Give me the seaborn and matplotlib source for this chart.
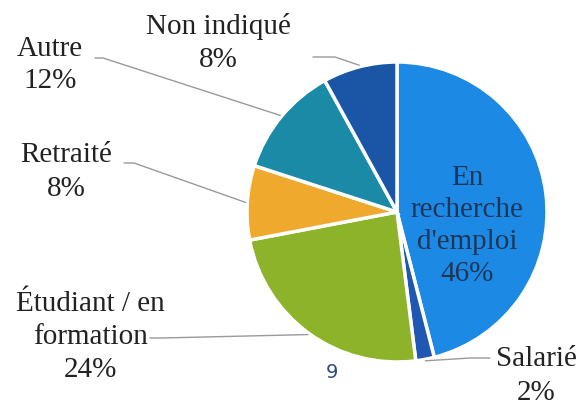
import numpy as np
import matplotlib
matplotlib.use('Agg')
import matplotlib.pyplot as plt
import seaborn as sns

# data (clockwise from 12 o'clock)
aCategory = ["En\nrecherche\nd'emploi", 'Salarié', 'Étudiant / en\nformation', 'Retraité', 'Autre', 'Non indiqué']
aPercent = [46, 2, 24, 8, 12, 8]
aColor = ['#1c8ae4', '#1f58b2', '#8db32a', '#efaa2e', '#1a8aa7', '#1a55a6']

sns.set_theme(style='white')
plt.rcParams['font.family'] = ['Liberation Serif', 'DejaVu Serif']

iWidth, iHeight = 582, 408
dCx, dCy, dR = 397.0, 212.0, 150.0   # pie centre / radius in pixels

def px(x, y):
    # pixel position -> data coordinates
    return (x - dCx) / dR, (dCy - y) / dR

fig = plt.figure(figsize=(iWidth / 100, iHeight / 100), dpi=100)
ax = fig.add_axes([0, 0, 1, 1])
aWedge, _ = ax.pie(aPercent, colors=sns.color_palette(aColor), startangle=90,
                   counterclock=False, radius=1.0,
                   wedgeprops=dict(edgecolor='white', linewidth=2.5))
ax.set_xlim(-dCx / dR, (iWidth - dCx) / dR)
ax.set_ylim(-(iHeight - dCy) / dR, dCy / dR)
ax.set_aspect('equal')
ax.axis('off')

# label boxes: (text centre, start of leader line, elbow length) in pixels
aLayout = {
    1: ((536, 376), (490, 358), 20),
    2: ((90, 337), (150, 338), 12),
    3: ((66, 172), (124, 163), 10),
    4: ((50, 65), (95, 58), 8),
    5: ((218, 43), (313, 57), 22),
}
dSize = 21

for i, (sCat, iPct) in enumerate(zip(aCategory, aPercent)):
    sLabel = sCat + '\n' + str(iPct) + '%'
    w = aWedge[i]
    dMid = np.deg2rad((w.theta1 + w.theta2) / 2)
    if i == 0:
        ax.text(*px(467, 226), sLabel, ha='center', va='center', fontsize=dSize,
                color='#1f3658', linespacing=1.3)
        continue
    (tx, ty), (lx, ly), dElbow = aLayout[i]
    ax.text(*px(tx, ty), sLabel, ha='center', va='center', fontsize=dSize,
            color='#222222', linespacing=1.35)
    x0, y0 = px(lx, ly)
    x1 = x0 + (dElbow / dR if x0 < 0 else -dElbow / dR)
    ex, ey = 1.01 * np.cos(dMid), 1.01 * np.sin(dMid)
    ax.plot([x0, x1, ex], [y0, y0, ey], color='#9a9a9a', lw=1.0)

# stray page number under the pie
ax.text(*px(332, 372), '9', ha='center', va='center', fontsize=14,
        color='#2f4a85', family='DejaVu Sans')

fig.savefig('out.png', dpi=100)
